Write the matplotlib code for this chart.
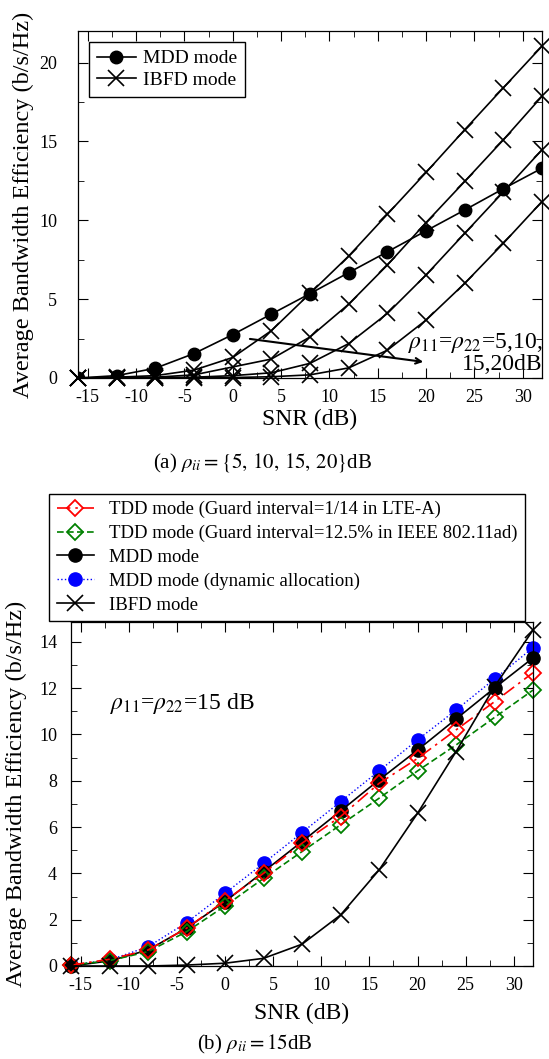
# average bandwidth efficiency vs SNR, two panels (a) and (b)

import numpy as np
import matplotlib
matplotlib.use('Agg')
import matplotlib.pyplot as plt
from matplotlib.ticker import MultipleLocator

plt.rcParams['font.family'] = ['Liberation Serif', 'DejaVu Serif']
plt.rcParams['mathtext.fontset'] = 'stix'
plt.rcParams['axes.unicode_minus'] = False

snr = [-16, -12, -8, -4, 0, 4, 8, 12, 16, 20, 24, 28, 32]

# panel (a)
mdd_a = [0.0, 0.15, 0.62, 1.55, 2.75, 4.05, 5.35, 6.68, 8.0, 9.33, 10.65, 12.0, 13.3]
ibfd_5 = [0.0, 0.05, 0.15, 0.5, 1.3, 3.0, 5.36, 7.73, 10.38, 13.03, 15.74, 18.4, 21.04]
ibfd_10 = [0.0, 0.02, 0.05, 0.2, 0.7, 1.2, 2.6, 4.68, 7.16, 9.85, 12.46, 15.1, 17.86]
ibfd_15 = [0.0, 0.0, 0.02, 0.05, 0.15, 0.33, 0.93, 2.18, 4.09, 6.53, 9.17, 11.8, 14.47]
ibfd_20 = [0.0, 0.0, 0.0, 0.01, 0.03, 0.08, 0.2, 0.64, 1.76, 3.67, 6.0, 8.54, 11.19]

# panel (b)
tdd_lte = [0.04, 0.29, 0.69, 1.63, 2.82, 4.0, 5.3, 6.45, 7.88, 8.96, 10.19, 11.41, 12.66]
tdd_wifi = [0.04, 0.23, 0.62, 1.48, 2.59, 3.78, 4.94, 6.09, 7.24, 8.42, 9.54, 10.73, 11.91]
mdd_b = [0.0, 0.22, 0.69, 1.63, 2.78, 4.07, 5.37, 6.69, 8.03, 9.32, 10.66, 12.0, 13.3]
mdd_dyn = [0.04, 0.26, 0.83, 1.87, 3.14, 4.43, 5.76, 7.09, 8.42, 9.76, 11.05, 12.39, 13.74]
ibfd_b = [0.0, 0.0, 0.0, 0.04, 0.12, 0.33, 0.94, 2.2, 4.14, 6.59, 9.25, 12.06, 14.5]

W, H = 549, 1059
fig = plt.figure(figsize=(W / 100, H / 100), dpi=100)

def px_axes(l, t, r, b):
    return fig.add_axes([l / W, 1 - b / H, (r - l) / W, (b - t) / H])

def style(ax, ymajor, yminor, ypad, ylab_x, xlab_y):
    ax.xaxis.set_major_locator(MultipleLocator(5))
    ax.xaxis.set_minor_locator(MultipleLocator(2.5))
    ax.yaxis.set_major_locator(MultipleLocator(ymajor))
    ax.yaxis.set_minor_locator(MultipleLocator(yminor))
    ax.tick_params(which='both', direction='in', top=True, right=True, labelsize=13)
    ax.tick_params(which='major', length=7)
    ax.tick_params(which='minor', length=4)
    ax.tick_params(axis='x', pad=8)
    ax.tick_params(axis='y', pad=ypad)
    ax.set_xlabel('SNR (dB)', fontsize=17)
    ax.set_ylabel('Average Bandwidth Efficiency (b/s/Hz)', fontsize=17.5)
    ax.yaxis.set_label_coords(ylab_x, 0.5)
    ax.xaxis.set_label_coords(0.5, xlab_y)
    for s in ax.spines.values():
        s.set_linewidth(0.9)

# ---- (a)
ax1 = px_axes(78, 31, 542, 378)
ax1.plot(snr, mdd_a, '-o', color='black', lw=1.2, ms=9, label='MDD mode', zorder=4)
for i, y in enumerate([ibfd_5, ibfd_10, ibfd_15, ibfd_20]):
    ax1.plot(snr, y, '-x', color='black', lw=1.2, ms=12, mew=1.2,
             label='IBFD mode' if i == 0 else None, clip_on=False)
ax1.set_xlim(-16, 32)
ax1.set_ylim(0, 22)
style(ax1, 5, 2.5, 15, -0.095, -0.088)
ax1.legend(loc='upper left', bbox_to_anchor=(89 / W, 1 - 42 / H), bbox_transform=fig.transFigure,
           borderaxespad=0, fontsize=14, numpoints=1, fancybox=False, edgecolor='black',
           framealpha=1, handlelength=2.0, handletextpad=0.4, labelspacing=0.2)
ax1.annotate('', xy=(20, 1.0), xytext=(1.5, 2.5),
             arrowprops=dict(arrowstyle='->', color='black', lw=1.5))
ax1.text(32, 1.6, '$\\rho_{11}$=$\\rho_{22}$=5,10,\n15,20dB', ha='right', va='center',
         fontsize=17, linespacing=0.95)
fig.text(262 / W, 1 - 463 / H, '(a) $\\rho_{ii}=\\{5,\\,10,\\,15,\\,20\\}$dB', ha='center', va='center',
         fontsize=15)

# ---- (b)
ax2 = px_axes(71, 622, 533, 966)
ax2.plot(snr, mdd_dyn, ':o', color='blue', lw=1.0, ms=9.5, label='MDD mode (dynamic allocation)',
         clip_on=False)
ax2.plot(snr, mdd_b, '-o', color='black', lw=1.2, ms=9.5, label='MDD mode', clip_on=False)
ax2.plot(snr, tdd_wifi, 'D', ls=(0, (4, 2)), color='green', lw=1.2, ms=8, mfc='none', mew=1.3,
         label='TDD mode (Guard interval=12.5% in IEEE 802.11ad)', clip_on=False)
ax2.plot(snr, tdd_lte, 'D', ls=(0, (8, 3, 1.5, 3)), color='red', lw=1.2, ms=8, mfc='none', mew=1.3,
         label='TDD mode (Guard interval=1/14 in LTE-A)', clip_on=False)
ax2.plot(snr, ibfd_b, '-x', color='black', lw=1.2, ms=12, mew=1.2, label='IBFD mode', clip_on=False)
ax2.set_xlim(-16, 32)
ax2.set_ylim(0, 14.85)
style(ax2, 2, 1, 10, -0.095, -0.108)
ax2.text(-12, 11.35, '$\\rho_{11}$=$\\rho_{22}$=15 dB', ha='left', va='center', fontsize=17)

h, l = ax2.get_legend_handles_labels()
order = [3, 2, 1, 0, 4]
ax2.legend([h[i] for i in order], [l[i] for i in order], loc='lower left',
           bbox_to_anchor=(49 / W, 1 - 621 / H), bbox_transform=fig.transFigure,
           borderaxespad=0, fontsize=13.5, numpoints=1, fancybox=False, edgecolor='black',
           framealpha=1, handlelength=2.0, labelspacing=0.35)
fig.text(255 / W, 1 - 1044 / H, '(b) $\\rho_{ii}=15$dB', ha='center', va='center', fontsize=15)

fig.savefig('out.png', dpi=100)
